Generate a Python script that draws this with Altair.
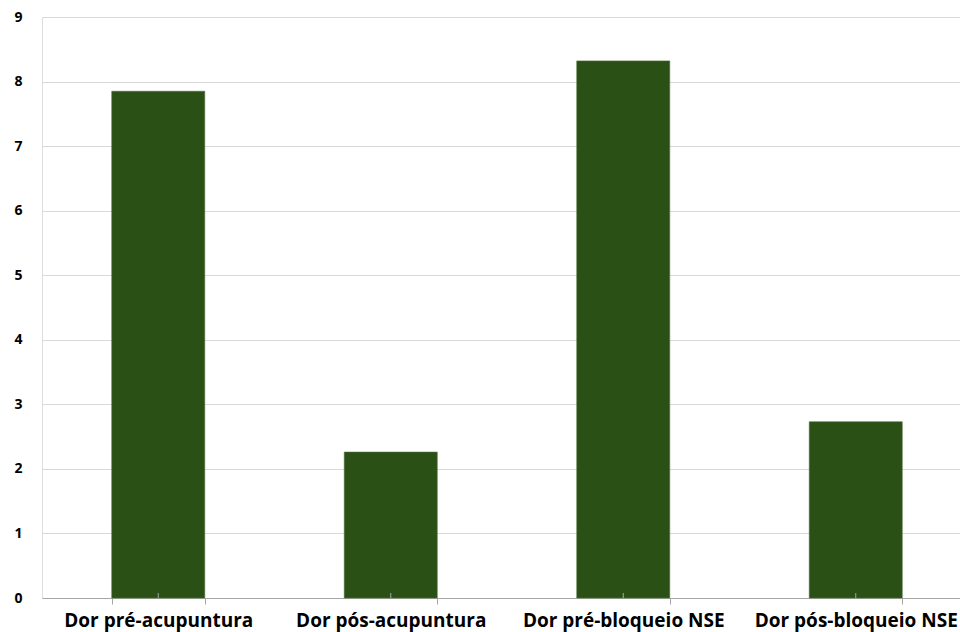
import altair as alt
import pandas as pd

categories = ["Dor pré-acupuntura", "Dor pós-acupuntura", "Dor pré-bloqueio NSE", "Dor pós-bloqueio NSE"]
values = [7.85, 2.26, 8.32, 2.73]

df = pd.DataFrame({"categoria": categories, "valor": values})

W, H = 918, 581

x = alt.X("categoria:N", sort=categories, title=None,
          scale=alt.Scale(range=[0, 930], paddingInner=0.6, paddingOuter=0.3),
          axis=alt.Axis(labelAngle=0, labelFont="Open Sans", labelFontWeight="bold",
                        labelFontSize=19, labelColor="#000000", labelPadding=7,
                        labelLimit=400, labelOverlap=False,
                        domainColor="#a6a6a6", tickColor="#a6a6a6", tickSize=6,
                        tickBand="extent", grid=False))

bars = alt.Chart(df).mark_bar(color="#2b5016", stroke="#4a6b35", strokeWidth=0.6).encode(
    x=x,
    y=alt.Y("valor:Q", title=None,
            scale=alt.Scale(domain=[0, 9], nice=False),
            axis=alt.Axis(values=list(range(10)), labelFont="Open Sans", labelFontWeight="bold",
                          labelFontSize=14, labelColor="#000000", labelPadding=20,
                          domain=False, ticks=False, gridColor="#d9d9d9", gridWidth=1)),
)

centre_ticks = alt.Chart(df).mark_rule(color="#a6a6a6", strokeWidth=1).encode(
    x=alt.X("categoria:N", sort=categories),
    y=alt.value(H - 5), y2=alt.value(H),
)

chart = alt.layer(bars, centre_ticks).properties(
    width=W, height=H,
    autosize=alt.AutoSizeParams(type="none"),
    padding={"left": 42, "top": 17, "right": 0, "bottom": 34},
).configure_view(stroke=None).configure(background="#ffffff")

chart.save("out.html", embed_options={"renderer": "svg", "actions": False})
